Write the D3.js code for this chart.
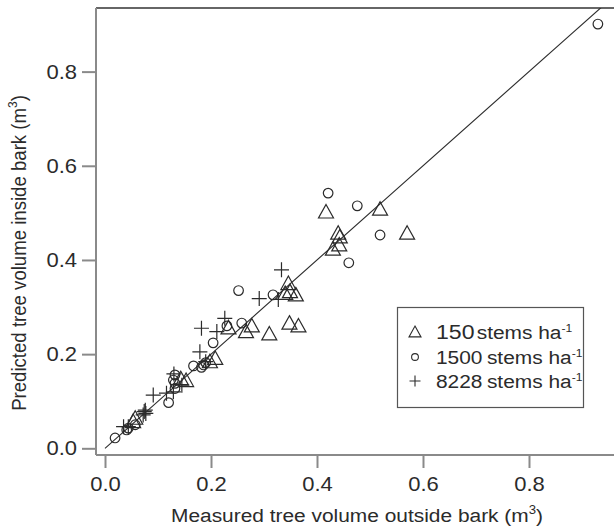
<!DOCTYPE html>
<html>
<head>
<meta charset="utf-8">
<script src="https://cdn.jsdelivr.net/npm/d3@7/dist/d3.min.js"></script>
<style>
  html, body { margin: 0; padding: 0; background: #fff; }
  svg { display: block; font-family: "Liberation Sans", Arial, sans-serif; }
</style>
</head>
<body>
<svg id="chart" width="614" height="528"></svg>
<script>
// ===== DATA =====
// [measured outside bark, predicted inside bark] in m3
const stems150 = [
  [0.417, 0.502], [0.519, 0.508], [0.570, 0.457], [0.440, 0.457], [0.443, 0.449],
  [0.442, 0.432], [0.430, 0.423], [0.346, 0.350], [0.349, 0.333], [0.340, 0.329],
  [0.360, 0.326], [0.348, 0.266], [0.365, 0.260], [0.310, 0.243], [0.277, 0.260],
  [0.266, 0.248], [0.233, 0.256], [0.208, 0.191], [0.198, 0.184], [0.143, 0.148],
  [0.153, 0.144], [0.057, 0.064], [0.053, 0.057]
];
const stems1500 = [
  [0.930, 0.901], [0.421, 0.542], [0.476, 0.515], [0.519, 0.453], [0.460, 0.394],
  [0.252, 0.335], [0.317, 0.326], [0.258, 0.266], [0.230, 0.260], [0.204, 0.224],
  [0.186, 0.177], [0.190, 0.182], [0.182, 0.172], [0.167, 0.175], [0.132, 0.156],
  [0.129, 0.145], [0.132, 0.138], [0.132, 0.127], [0.120, 0.097], [0.057, 0.050],
  [0.044, 0.043], [0.041, 0.039], [0.019, 0.022]
];
const stems8228 = [
  [0.333, 0.379], [0.291, 0.318], [0.327, 0.316], [0.226, 0.276], [0.182, 0.255],
  [0.211, 0.248], [0.179, 0.205], [0.190, 0.184], [0.130, 0.158], [0.145, 0.134],
  [0.091, 0.113], [0.116, 0.117], [0.129, 0.120], [0.076, 0.081], [0.074, 0.078],
  [0.077, 0.074], [0.072, 0.071], [0.035, 0.046], [0.044, 0.046]
];
const tickValues = [0, 0.2, 0.4, 0.6, 0.8];
const legendLabels = ['150', '1500', '8228'];

// ===== LAYOUT =====
const plotLeft = 96, plotRight = 614, plotTop = 8, plotBottom = 455;
const stretch = 1.1; // the figure is a little wider than tall, text too

const x = d3.scaleLinear().domain([-0.017, 0.9604]).range([plotLeft, plotRight]);
const y = d3.scaleLinear().domain([-0.0142, 0.9351]).range([plotBottom, plotTop]);

const svg = d3.select('#chart');
const ink = '#2b2b2b';
const axisGrey = '#8a8a8a';

// clip for the 1:1 line
svg.append('defs').append('clipPath').attr('id', 'plotClip')
  .append('rect')
  .attr('x', plotLeft).attr('y', plotTop)
  .attr('width', plotRight - plotLeft).attr('height', plotBottom - plotTop);

// ===== FRAME =====
svg.append('line')
  .attr('x1', plotLeft).attr('x2', plotRight).attr('y1', plotTop).attr('y2', plotTop)
  .attr('stroke', '#333').attr('stroke-width', 1.6);
svg.append('line')
  .attr('x1', plotLeft).attr('x2', plotLeft).attr('y1', plotTop).attr('y2', plotBottom)
  .attr('stroke', axisGrey).attr('stroke-width', 2);
svg.append('line')
  .attr('x1', plotLeft).attr('x2', plotRight).attr('y1', plotBottom).attr('y2', plotBottom)
  .attr('stroke', axisGrey).attr('stroke-width', 2);

// ===== AXES =====
const xAxis = d3.axisBottom(x).tickValues(tickValues).tickSize(13).tickSizeOuter(0)
  .tickFormat(d3.format('.1f')).tickPadding(9);
const gx = svg.append('g').attr('transform', `translate(0,${plotBottom})`).call(xAxis);
gx.select('.domain').remove();
gx.selectAll('.tick line').attr('stroke', axisGrey).attr('stroke-width', 2);
gx.selectAll('.tick text').attr('fill', ink).style('font-size', '20px')
  .style('font-family', '"Liberation Sans", Arial, sans-serif')
  .attr('transform', `scale(${stretch},1)`);

const yAxis = d3.axisLeft(y).tickValues(tickValues).tickSize(14).tickSizeOuter(0)
  .tickFormat(d3.format('.1f'));
const gy = svg.append('g').attr('transform', `translate(${plotLeft},0)`).call(yAxis);
gy.select('.domain').remove();
gy.selectAll('.tick line').attr('stroke', axisGrey).attr('stroke-width', 2);
gy.selectAll('.tick text').attr('fill', ink).style('font-size', '20px')
  .style('font-family', '"Liberation Sans", Arial, sans-serif')
  .attr('x', -19 / stretch)
  .attr('transform', `scale(${stretch},1)`);

// ===== AXIS TITLES =====
const xt = svg.append('text')
  .attr('transform', `translate(357,522) scale(${stretch},1)`)
  .attr('text-anchor', 'middle')
  .attr('fill', ink).style('font-size', '19px');
xt.append('tspan').text('Measured tree volume outside bark (m');
xt.append('tspan').attr('dy', -8).style('font-size', '12px').text('3');
xt.append('tspan').attr('dy', 8).text(')');

const yt = svg.append('text')
  .attr('transform', `translate(26,253) rotate(-90) scale(1,${stretch})`)
  .attr('text-anchor', 'middle')
  .attr('fill', ink).style('font-size', '18.6px');
yt.append('tspan').text('Predicted tree volume inside bark (m');
yt.append('tspan').attr('dy', -8).style('font-size', '12px').text('3');
yt.append('tspan').attr('dy', 8).text(')');

// ===== 1:1 LINE =====
svg.append('line')
  .attr('clip-path', 'url(#plotClip)')
  .attr('x1', x(0)).attr('y1', y(0))
  .attr('x2', x(1)).attr('y2', y(1))
  .attr('stroke', ink).attr('stroke-width', 1.1);

// ===== MARKERS =====
function trianglePath(w) {
  const h = w * 0.9;
  return `M0,${-h * 0.55}L${w / 2},${h * 0.45}L${-w / 2},${h * 0.45}Z`;
}
function crossPath(a) {
  return `M${-a},0H${a}M0,${-a}V${a}`;
}

const marks = svg.append('g').attr('fill', 'none').attr('stroke', ink).attr('stroke-width', 1.2);

marks.selectAll('path.tri').data(stems150).join('path')
  .attr('class', 'tri')
  .attr('transform', d => `translate(${x(d[0])},${y(d[1])})`)
  .attr('d', trianglePath(15));

marks.selectAll('circle.circ').data(stems1500).join('circle')
  .attr('class', 'circ')
  .attr('cx', d => x(d[0])).attr('cy', d => y(d[1]))
  .attr('r', 4.8);

marks.selectAll('path.cross').data(stems8228).join('path')
  .attr('class', 'cross')
  .attr('transform', d => `translate(${x(d[0])},${y(d[1])})`)
  .attr('d', crossPath(7.5));

// ===== LEGEND =====
const lg = svg.append('g');
lg.append('rect')
  .attr('x', 397.5).attr('y', 307.5).attr('width', 186).attr('height', 100)
  .attr('fill', '#fff').attr('stroke', '#555').attr('stroke-width', 1.2);

const rowY = [332, 357, 381];
const symX = 415;
lg.append('path').attr('transform', `translate(${symX},${rowY[0]})`)
  .attr('d', trianglePath(12)).attr('fill', 'none').attr('stroke', ink).attr('stroke-width', 1.1);
lg.append('circle').attr('cx', symX).attr('cy', rowY[1]).attr('r', 3.4)
  .attr('fill', 'none').attr('stroke', ink).attr('stroke-width', 1.1);
lg.append('path').attr('transform', `translate(${symX},${rowY[2]})`)
  .attr('d', crossPath(5.5)).attr('fill', 'none').attr('stroke', ink).attr('stroke-width', 1.1);

legendLabels.forEach((lab, i) => {
  const t = lg.append('text')
    .attr('transform', `translate(436,${rowY[i] + 7}) scale(${stretch},1)`)
    .attr('fill', ink).style('font-size', '19px');
  t.append('tspan').style('font-size', i === 0 ? '21px' : '19px').text(lab);
  t.append('tspan').attr('dx', i === 0 ? 2 : 4).text('stems ha');
  t.append('tspan').attr('dy', -7).style('font-size', '11px').text('-1');
});
</script>
</body>
</html>
